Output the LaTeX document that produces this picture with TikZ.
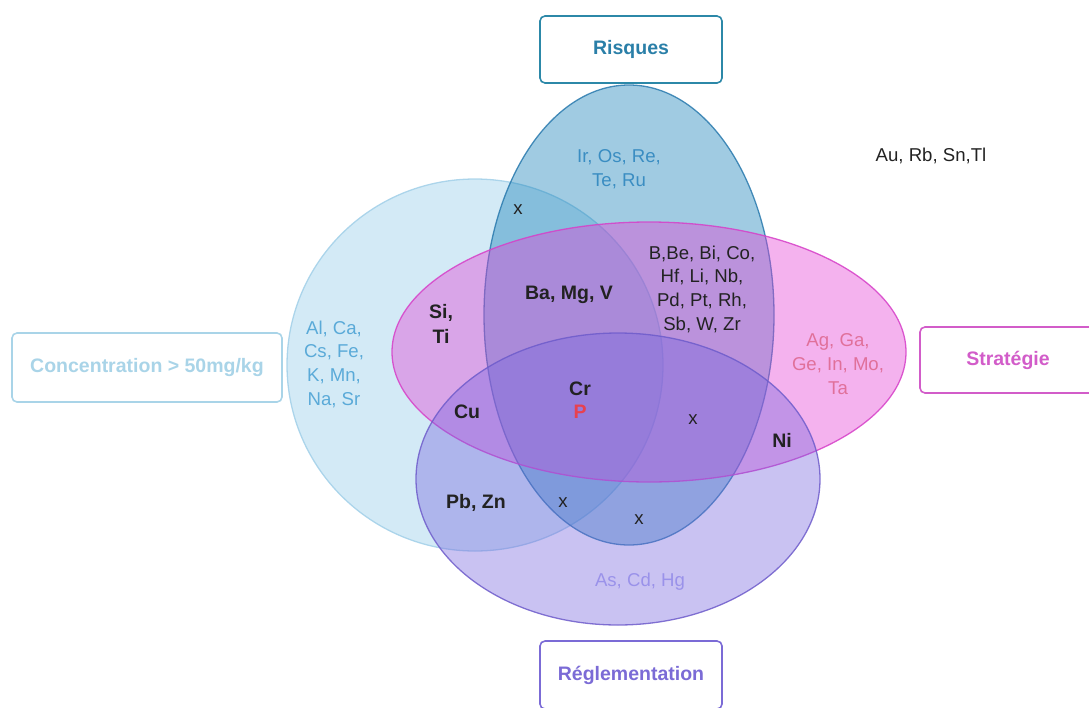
\documentclass[tikz,border=0pt]{standalone}
\usepackage{fontspec}
\setmainfont{Liberation Sans}
\definecolor{cA}{HTML}{91CAE8}
\definecolor{cAs}{HTML}{A2D0E8}
\definecolor{cR}{HTML}{117DB6}
\definecolor{cRs}{HTML}{2A7AAE}
\definecolor{cS}{HTML}{E33ED4}
\definecolor{cSs}{HTML}{D640C8}
\definecolor{cG}{HTML}{7866DE}
\definecolor{cGs}{HTML}{6E5CCB}
\definecolor{darktext}{HTML}{222222}
\definecolor{tR}{HTML}{3A8DC2}
\definecolor{tA}{HTML}{5AAAD8}
\definecolor{tS}{HTML}{E0709A}
\definecolor{tG}{HTML}{9A92EA}
\definecolor{tP}{HTML}{E8414F}
\definecolor{bR}{HTML}{2C88A8}
\definecolor{bRt}{HTML}{2A7FA8}
\definecolor{bA}{HTML}{A9D4E8}
\definecolor{bS}{HTML}{D25CC9}
\definecolor{bG}{HTML}{7B6BD6}
\begin{document}
\begin{tikzpicture}[x=1pt,y=-1pt,
  reg/.style={font=\fontsize{18.6}{23.7}\selectfont, align=center, inner sep=0pt},
  bld/.style={font=\bfseries\fontsize{19.5}{25}\selectfont, align=center, inner sep=0pt, text=darktext},
  lab/.style={draw, line width=1.6pt, rounded corners=5pt, fill=white,
    font=\bfseries\fontsize{19.5}{24}\selectfont, inner sep=0pt, anchor=center},
  setshape/.style={line width=1.3pt, fill opacity=0.4, draw opacity=0.85}]
\useasboundingbox (0,0) rectangle (1089,707);
\clip (0,0) rectangle (1089,707);
% sets
\draw[setshape, draw=cAs, fill=cA] (475,365) ellipse [x radius=188pt, y radius=186pt];
\draw[setshape, draw=cRs, fill=cR] (629,315) ellipse [x radius=145pt, y radius=230pt];
\draw[setshape, draw=cSs, fill=cS] (649,352) ellipse [x radius=257pt, y radius=130pt];
\draw[setshape, draw=cGs, fill=cG] (618,479) ellipse [x radius=202pt, y radius=146pt];
% label boxes
\node[lab, draw=bR, text=bRt, minimum width=182pt, minimum height=67pt] (risques) at (631,49.5) {Risques};
\node[lab, draw=bA, text=bA, minimum width=270pt, minimum height=69pt] (conc) at (147,367.5) {Concentration > 50mg/kg};
\node[lab, draw=bS, text=bS, minimum width=176pt, minimum height=66pt] (strat) at (1008,360) {Stratégie};
\node[lab, draw=bG, text=bG, minimum width=182pt, minimum height=68pt] (regl) at (631,675) {Réglementation};
% texts
\node[reg, text=tR] (irte) at (619,169) {Ir, Os, Re,\\Te, Ru};
\node[reg, text=darktext] (au) at (931,156) {Au, Rb, Sn,Tl};
\node[reg, text=darktext] (x1) at (518,210) {x};
\node[reg, text=darktext] (bbe) at (702,289) {B,Be, Bi, Co,\\Hf, Li, Nb,\\Pd, Pt, Rh,\\Sb, W, Zr};
\node[bld] (bamg) at (569,295) {Ba, Mg, V};
\node[bld] (siti) at (441,324) {Si,\\Ti};
\node[reg, text=tA] (alca) at (334,364) {Al, Ca,\\Cs, Fe,\\K, Mn,\\Na, Sr};
\node[reg, text=tS] (agga) at (838,364) {Ag, Ga,\\Ge, In, Mo,\\Ta};
\node[bld, font=\bfseries\fontsize{19.5}{23}\selectfont] (crp) at (580,400) {Cr\\\textcolor{tP}{P}};
\node[bld] (cu) at (467,412) {Cu};
\node[reg, text=darktext] (x2) at (693,420) {x};
\node[bld] (ni) at (782,440) {Ni};
\node[bld] (pbzn) at (476,503) {Pb, Zn};
\node[reg, text=darktext] (x3) at (563,503) {x};
\node[reg, text=darktext] (x4) at (639,520) {x};
\node[reg, text=tG] (ascd) at (640,582) {As, Cd, Hg};
\end{tikzpicture}
\end{document}
